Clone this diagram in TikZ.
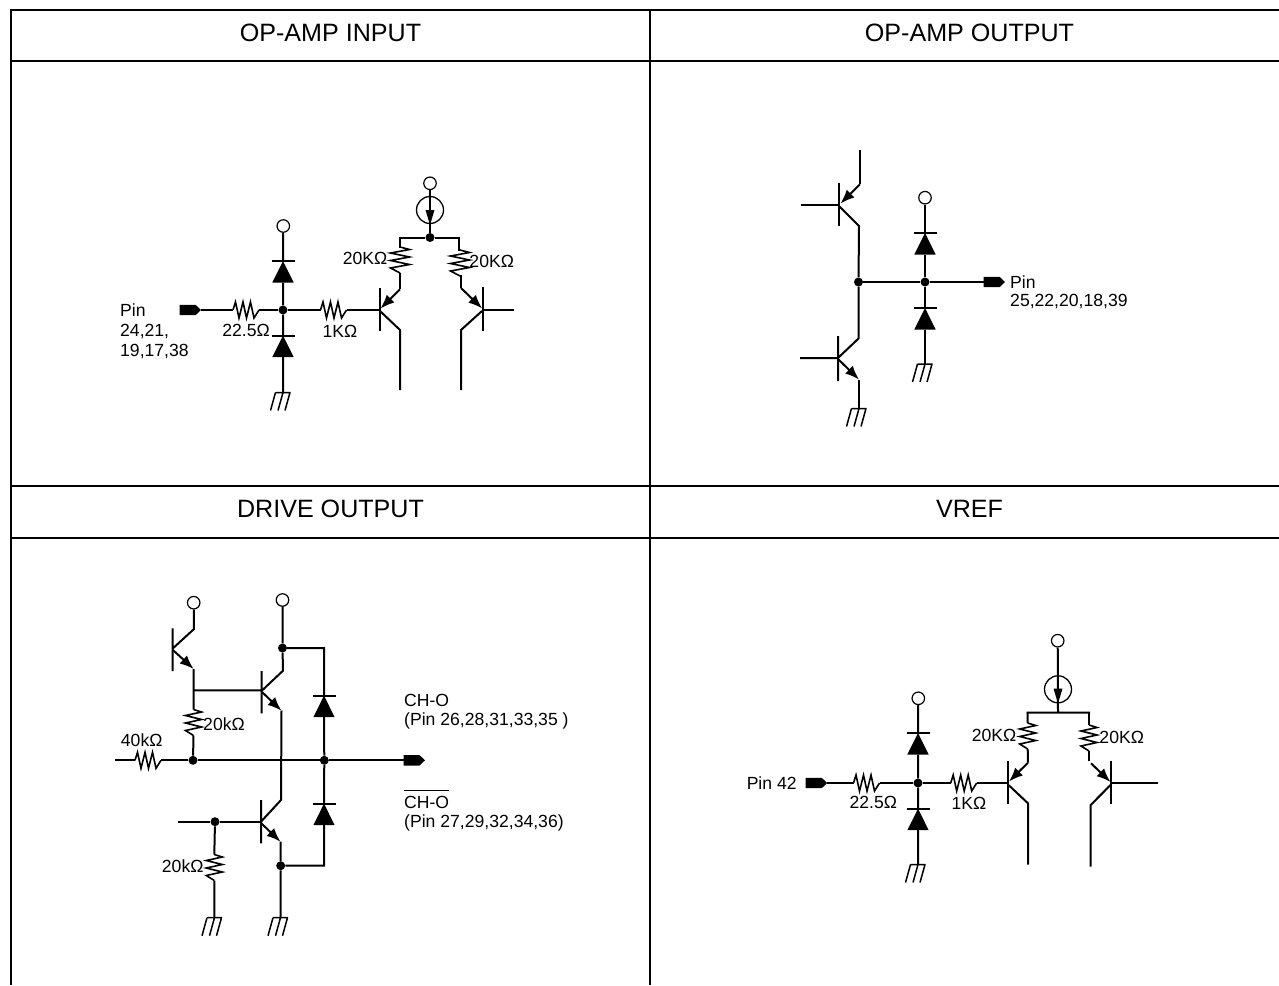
\documentclass[tikz,border=0pt]{standalone}
\usepackage{fontspec}
\setmainfont{Liberation Sans}
\usetikzlibrary{arrows.meta}
\tikzset{
  x=1pt,y=-1pt,
  wire/.style={line width=2pt,line cap=butt,line join=miter},
  frame/.style={line width=2pt},
  dot/.style={circle,fill=black,draw=none,minimum size=9pt,inner sep=0pt},
  opencirc/.style={circle,draw=black,fill=white,line width=1.2pt,minimum size=12.5pt,inner sep=0pt},
  srccirc/.style={circle,draw=black,line width=1.3pt,minimum size=27pt,inner sep=0pt},
  title/.style={font=\fontsize{25.1}{30}\selectfont,inner sep=0pt},
  lbl/.style={font=\fontsize{17.6}{20}\selectfont,inner sep=0pt,anchor=base},
  lblw/.style={font=\fontsize{17.6}{#1}\selectfont,inner sep=0pt,anchor=north west,align=left},
  lblw/.default=20,
  emit/.style={wire,-{Latex[length=14pt,width=11pt]}},
  pics/resistor/.style={code={
    \coordinate (-a) at (0,0); \coordinate (-b) at (26,0);
    \draw[wire,line width=1.6pt] (-a)--(2.5,-8)--(6,8)--(10,-8)--(13.5,8)--(17.5,-8)--(21,8)--(-b);}},
  pics/vresistor/.style={code={
    \coordinate (-a) at (0,0); \coordinate (-b) at (26,0);
    \draw[wire,line width=1.6pt] (-a)--(2.5,-9.5)--(6,9.5)--(10,-9.5)--(13.5,9.5)--(17.5,-9.5)--(21,9.5)--(-b);}},
  pics/diode/.style={code={
    \coordinate (-a) at (0,0); \coordinate (-b) at (0,21.5);
    \draw[wire] (-11.5,0)--(11.5,0);
    \fill (0,0)--(10.7,21.5)--(-10.7,21.5)--cycle;}},
  pics/earth/.style={code={
    \coordinate (-a) at (0,0);
    \draw[wire,line width=1.5pt] (-7.5,0)--(7.5,0) (-7.5,0)--++(-5,18) (0,0)--++(-5,18) (7,0)--++(-5,18);}},
  pics/terminal/.style={code={
    \coordinate (-a) at (0,0); \coordinate (-b) at (21.5,0);
    \fill (0,-5.2)--(16,-5.2)--(21.5,0)--(16,5.2)--(0,5.2)--cycle;}},
}
\begin{document}
\begin{tikzpicture}
\useasboundingbox (0,0) rectangle (1279,985);
% table
\coordinate (tl) at (10,10); \coordinate (tm) at (650,10); \coordinate (tr) at (1279,10);
\coordinate (al) at (11,61); \coordinate (ar) at (1279,61);
\coordinate (bl) at (11,486); \coordinate (br) at (1279,486);
\coordinate (cl) at (11,538); \coordinate (cr) at (1279,538);
\coordinate (em) at (650,985);
\draw[frame] (tl)--(tr) (al)--(ar) (bl)--(br) (cl)--(cr) (11,9)--(11,985) (tm)--(em);
\node[title] (t1) at (330.5,33) {OP-AMP INPUT};
\node[title] (t2) at (969.5,33) {OP-AMP OUTPUT};
\node[title] (t3) at (330.5,509) {DRIVE OUTPUT};
\node[title] (t4) at (969.5,509) {VREF};

% ---------- OP-AMP INPUT
\pic (atm) at (179.5,310) {terminal};
\pic (ar1) at (233,310) {resistor};
\pic (ar2) at (320.5,310) {resistor};
\node[dot] (aj) at (283,310) {};
\node[opencirc] (av) at (283.3,226) {};
\pic (ad1) at (283,261) {diode};
\pic (ad2) at (283,335.5) {diode};
\pic (ag) at (283,392.5) {earth};
\draw[wire] (av)--(ad1-a) (ad1-b)--(aj) (aj)--(ad2-a) (ad2-b)--(ag-a);
\draw[wire] (atm-b)--(ar1-a) (ar1-b)--(aj)--(ar2-a);
\node[opencirc] (av2) at (430,183.3) {};
\node[srccirc] (as) at (430,210) {};
\node[dot] (aj2) at (430,237.5) {};
\draw[wire] (av2)--(aj2);
\fill (430,225)--(425.5,210)--(434.5,210)--cycle;
\coordinate (atl) at (399.5,237.5); \coordinate (atr) at (459,237.5);
\draw[wire] (atl)--(aj2)--(atr);
\pic[rotate=-90] (ar3) at (400,247) {vresistor};
\pic[rotate=-90] (ar4) at (460,250) {vresistor};
\draw[wire] (399.5,236.5)--(399.5,248) (459,236.5)--(459,250.5);
% left PNP
\coordinate (aqb) at (379.5,310);
\draw[wire] (ar2-b)--(aqb) (379.5,288)--(379.5,331);
\coordinate (aqe) at (400,289.3); \coordinate (aqc) at (400,330);
\draw[wire] (ar3-b)--(aqe);
\draw[emit] (aqe)--(380.5,308.5);
\draw[wire] (380,311)--(aqc)--(400,390);
% right PNP
\coordinate (aqb2) at (482.7,309.5); \coordinate (aqe2) at (461,288); \coordinate (aqc2) at (461,330);
\draw[wire] (aqb2)--(514,309.5) (482.7,287)--(482.7,331);
\draw[wire] (ar4-b)--(461,276)--(aqe2);
\draw[emit] (aqe2)--(482.2,308.5);
\draw[wire] (482,311)--(aqc2)--(461,390);
\node[lblw] (al1) at (120,304) {Pin\\24,21,\\19,17,38};
\node[lbl] (al2) at (246,336.5) {22.5Ω};
\node[lbl] (al3) at (340,337.5) {1KΩ};
\node[lbl] (al4) at (365,264.8) {20KΩ};
\node[lbl] (al5) at (491.7,267.8) {20KΩ};

% ---------- OP-AMP OUTPUT
\coordinate (bq1b) at (839,204.7); \coordinate (bq1i) at (801,204.7);
\draw[wire] (bq1i)--(bq1b) (839,183)--(839,226);
\coordinate (bq1e) at (860,184.3); \coordinate (bq1t) at (860,149.5); \coordinate (bq1c) at (859,226);
\draw[wire] (bq1t)--(bq1e);
\draw[emit] (bq1e)--(840.5,203.5);
\node[dot] (bj1) at (858.5,282) {};
\node[dot] (bj2) at (925,282) {};
\draw[wire] (839.5,206.5)--(bq1c)--(bj1);
\coordinate (bq2c) at (858.7,338.3); \coordinate (bq2b) at (838,358); \coordinate (bq2i) at (800,358); \coordinate (bq2e) at (859,379.5);
\draw[wire] (bj1)--(bq2c)--(838,358) (bq2i)--(bq2b) (838,336)--(838,381);
\draw[emit] (838.5,359.5)--(bq2e);
\pic (bg1) at (859,408.5) {earth};
\draw[wire] (bq2e)--(bg1-a);
\node[opencirc] (bv) at (925,197.7) {};
\pic (bd1) at (925,233) {diode};
\pic (bd2) at (925,308) {diode};
\pic (bg2) at (925,364) {earth};
\pic (btm) at (983.5,282) {terminal};
\draw[wire] (bv)--(bd1-a) (bd1-b)--(bj2)--(bd2-a) (bd2-b)--(bg2-a) (bj1)--(bj2)--(btm-a);
\node[lblw=18.4] (bl1) at (1010,275.5) {Pin\\25,22,20,18,39};

% ---------- DRIVE OUTPUT
\node[opencirc] (cv1) at (193.7,602.7) {};
\coordinate (cq1c) at (194,629); \coordinate (cq1e) at (193.7,669);
\draw[wire] (cv1)--(cq1c)--(172.7,648.5) (172.7,628.3)--(172.7,671);
\draw[emit] (172.9,650)--(cq1e);
\coordinate (cjb) at (193.7,690.3); \coordinate (cq2b) at (261.7,690.3);
\pic[rotate=-90] (cr1) at (193.5,709.5) {resistor};
\node[dot] (cj1) at (193,760.3) {};
\draw[wire] (cq1e)--(cjb)--(cr1-a) (cr1-b)--(cj1) (cjb)--(cq2b) (261.7,671)--(261.7,713.3);
\coordinate (ci) at (115,760.3);
\pic (cr2) at (135,760.3) {resistor};
\node[dot] (cj2) at (324.3,760.3) {};
\pic (ctm) at (403.5,760.3) {terminal};
\draw[wire] (ci)--(cr2-a) (cr2-b)--(cj1)--(cj2)--(ctm-a);
\node[opencirc] (cv2) at (282.5,600) {};
\node[dot] (cj3) at (282.5,648) {};
\coordinate (cq2c) at (283,670.7);
\coordinate (cq2e) at (281.5,710.7);
\coordinate (cq3c) at (281,800);
\draw[wire] (cv2)--(cj3)--(cq2c)--(262,690.5);
\draw[emit] (262,692)--(cq2e);
\draw[wire] (cq2e)--(cq3c)--(261,821.7) (261,800)--(261,843.3);
\coordinate (cq3b) at (261,821.7); \coordinate (ci3) at (178,821.7);
\node[dot] (cj4) at (215,821.7) {};
\draw[wire] (ci3)--(cj4)--(cq3b);
\coordinate (cq3e) at (280.5,841.7);
\draw[emit] (261.5,823.5)--(cq3e);
\node[dot] (cj5) at (280.7,865.7) {};
\pic (cg2) at (280.5,917.7) {earth};
\draw[wire] (cq3e)--(cj5)--(cg2-a);
\pic[rotate=-90] (cr3) at (214.3,854.5) {resistor};
\pic (cg1) at (214.5,917.7) {earth};
\draw[wire] (cj4)--(cr3-a) (cr3-b)--(cg1-a);
\pic (cd1) at (324,695.7) {diode};
\pic (cd2) at (324,803.7) {diode};
\coordinate (ctr) at (324,648); \coordinate (cbr) at (324,865.7);
\draw[wire] (cj3)--(ctr)--(cd1-a) (cd1-b)--(cj2)--(cd2-a) (cd2-b)--(cbr)--(cj5);
\node[lblw=18.8] (cl1) at (404,694) {CH-O\\(Pin 26,28,31,33,35 )};
\node[lblw=19.3] (cl2) at (404,789) {$\overline{\hbox{\vrule height 17pt width 0pt CH-O}}$\\(Pin 27,29,32,34,36)};
\node[lbl] (cl3) at (224,730.5) {20kΩ};
\node[lbl] (cl4) at (141.7,746) {40kΩ};
\node[lbl] (cl5) at (182.7,872.8) {20kΩ};

% ---------- VREF
\node[dot] (dj) at (918,783) {};
\node[opencirc] (dv) at (918.3,698.3) {};
\pic (dd1) at (918,733) {diode};
\pic (dd2) at (918,808.7) {diode};
\pic (dg) at (918,864.5) {earth};
\pic (dtm) at (805.7,783) {terminal};
\pic (dr1) at (853.5,783) {resistor};
\pic (dr2) at (950.7,783) {resistor};
\coordinate (dqb) at (1008,783);
\draw[wire] (dv)--(dd1-a) (dd1-b)--(dj)--(dd2-a) (dd2-b)--(dg-a);
\draw[wire] (dtm-b)--(dr1-a) (dr1-b)--(dj)--(dr2-a) (dr2-b)--(dqb) (1008,761)--(1008,803.5);
\node[opencirc] (dv2) at (1057.7,640.7) {};
\node[srccirc] (ds) at (1058,689.3) {};
\coordinate (dt) at (1058,712.7); \coordinate (dtl) at (1027.7,712.7); \coordinate (dtr) at (1089,712.7);
\draw[wire] (dv2)--(dt) (1026.7,712.7)--(1090,712.7);
\fill (1058,703.5)--(1053.5,688.5)--(1062.5,688.5)--cycle;
\pic[rotate=-90] (dr3) at (1027.7,723) {resistor};
\pic[rotate=-90] (dr4) at (1089,725) {resistor};
\coordinate (dqe) at (1028,762.7); \coordinate (dqc) at (1028,803.3);
\draw[wire] (dtl)--(dr3-a) (dr3-b)--(dqe);
\draw[emit] (dqe)--(1009,781.5);
\draw[wire] (1008.5,785)--(dqc)--(1028,864.5);
\coordinate (dqe2) at (1091,763.3); \coordinate (dqb2) at (1111,783); \coordinate (dqc2) at (1090.7,805);
\draw[wire] (dtr)--(dr4-a) (dr4-b)--(1089,760.7);
\draw[emit] (dqe2)--(1110.5,782);
\draw[wire] (dqb2)--(1157.7,783) (1111,761)--(1111,804);
\draw[wire] (1110.5,785)--(dqc2)--(1090.7,866.7);
\node[lbl] (dl1) at (771.7,789) {Pin 42};
\node[lbl] (dl2) at (873.3,808.2) {22.5Ω};
\node[lbl] (dl3) at (969,809.5) {1KΩ};
\node[lbl] (dl4) at (994,741.2) {20KΩ};
\node[lbl] (dl5) at (1121.7,743.8) {20KΩ};
\end{tikzpicture}
\end{document}
